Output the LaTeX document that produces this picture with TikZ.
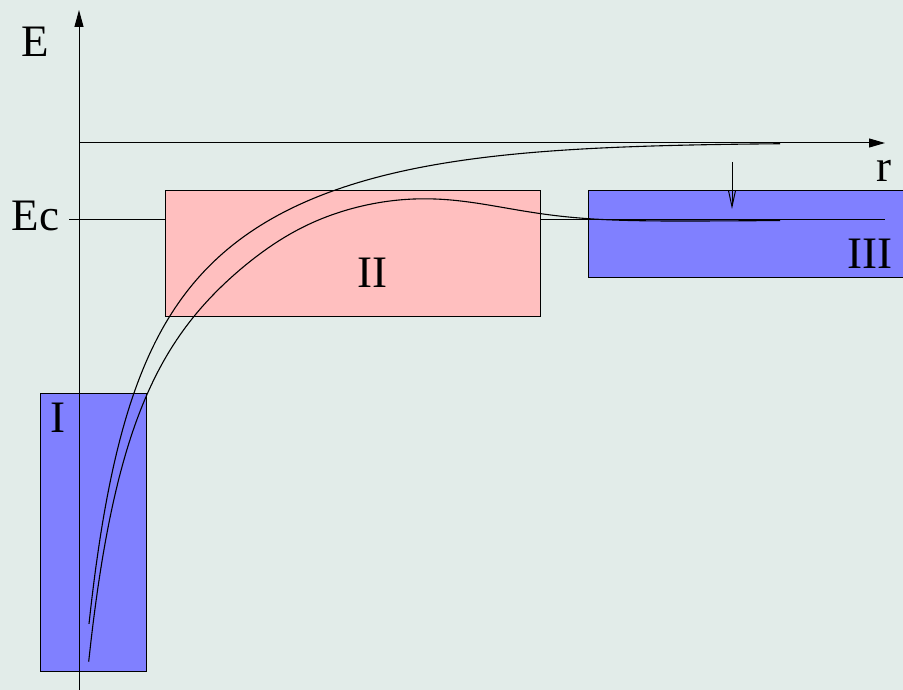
\documentclass[tikz,border=0pt]{standalone}
\usepackage{fontspec}
\setmainfont{Liberation Serif}
\usetikzlibrary{arrows.meta}
\definecolor{bgcol}{HTML}{E2ECE9}
\definecolor{regblue}{HTML}{8080FF}
\definecolor{regpink}{HTML}{FFBFBF}

\begin{document}
\begin{tikzpicture}[x=1pt, y=-1pt, line width=1pt,
    region/.style={draw=black, line width=1pt},
    lbl/.style={font=\fontsize{45}{50}\selectfont, anchor=base, inner sep=0pt},
    curve/.style={line width=1.1pt, smooth},
    declare function={
        tA(\x) = (\x-35)/100;
        yA(\x) = 143 + 264.92/tA(\x)*exp(-0.0697*tA(\x)^2);
        stepdn(\z) = 1/(1+exp(min(max(\z,-9),9)));
        yB(\x) = yA(\x) + 77 - 57*stepdn((\x-490)/50) + 15*stepdn((\x-260)/30);
    }]
    % Background
    \fill[bgcol] (0,0) rectangle (903,690);
    \useasboundingbox (0,0) rectangle (903,690);

    % Axes end points and the Ec level
    \coordinate (Ebot) at (79,690);
    \coordinate (Etop) at (79,10);
    \coordinate (rbeg) at (79,143);
    \coordinate (rend) at (885,143);
    \coordinate (ecbeg) at (69,220);
    \coordinate (ecend) at (885,220);

    % Region III, then the Ec line, then regions II and I
    \draw[region, fill=regblue] (588,191) rectangle (912,277);
    \draw (ecbeg) -- (ecend);
    \draw[region, fill=regpink] (165,191) rectangle (540,316);
    \draw[region, fill=regblue] (40,393) rectangle (146,671);

    \node[lbl] (lblI) at (58,432) {I};
    \node[lbl] (lblII) at (372.5,287) {II};
    \node[lbl] (lblIII) at (870,268) {III};

    % Potential curves
    \draw[curve] plot[domain=89:780, samples=300] (\x, {yA(\x)});
    \draw[curve] plot[domain=88.7:780, samples=300] (\x, {yB(\x)});

    % Axes
    \draw[-{Triangle[length=17pt, width=9pt]}] (Ebot) -- (Etop);
    \draw[-{Triangle[length=16pt, width=9pt]}] (rbeg) -- (rend);
    \node[lbl] (lblE) at (35.5,57) {E};
    \node[lbl] (lblr) at (883.5,182) {r};
    \node[lbl] (lblEc) at (35.5,230) {Ec};

    % Shift of the level
    \coordinate (shtop) at (732,162);
    \coordinate (shbot) at (732,209);
    \draw[-{Straight Barb[length=16pt, width=7pt]}] (shtop) -- (shbot);
\end{tikzpicture}
\end{document}
